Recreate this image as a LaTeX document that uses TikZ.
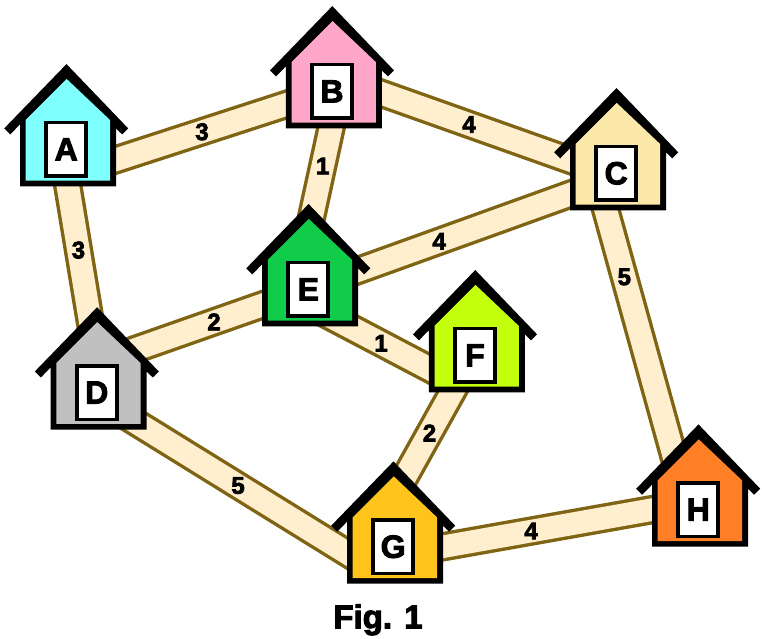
\documentclass[tikz,border=0pt]{standalone}
\usepackage{fontspec}
\setmainfont{Liberation Sans}[BoldFeatures={FakeBold=3}]
\usetikzlibrary{backgrounds,calc}
\definecolor{roadfill}{HTML}{FFEFCF}
\definecolor{roadedge}{HTML}{7F6414}
\definecolor{houseA}{HTML}{80FFFF}
\definecolor{houseB}{HTML}{FFA6C9}
\definecolor{houseC}{HTML}{FCE8A8}
\definecolor{houseD}{HTML}{C0C0C0}
\definecolor{houseE}{HTML}{10CC48}
\definecolor{houseF}{HTML}{C4FF0E}
\definecolor{houseG}{HTML}{FFC41C}
\definecolor{houseH}{HTML}{FF7F27}
\tikzset{
  x=1pt,y=-1pt,
  road/.style={draw=roadedge,line width=3.4pt,double=roadfill,double distance=22.5pt},
  letter/.style={inner sep=0pt,font=\fontsize{32}{32}\selectfont\bfseries},
  weight/.style={inner sep=0pt,font=\fontsize{24}{24}\selectfont\bfseries},
  caption/.style={inner sep=0pt,anchor=base,font=\fontsize{33}{33}\selectfont\bfseries},
}
% #1 name/letter, #2 x, #3 y (door centre)
\newcommand{\myhouse}[3]{%
  \begin{scope}[shift={(#2,#3)}]
    \fill[black] (0.3,-85.3) -- (62,-21) -- (56,-15) -- (49.8,-21) -- (49.8,37) -- (-46.2,37)
      -- (-46.2,-25) -- (-56,-15) -- (-62,-21) -- cycle;
    \fill[house#1] (0.5,-70.4) -- (43.8,-29.4) -- (43.8,31.3) -- (-40.5,31.3) -- (-40.5,-29.4) -- cycle;
    \fill[black] (-22,-28.7) rectangle (22,28.7);
    \fill[white] (-18,-25) rectangle (18,25);
  \end{scope}
  \node[letter] (#1) at (#2,#3) {#1};%
}
\begin{document}
\begin{tikzpicture}
\useasboundingbox (0,0) rectangle (762,638);
\myhouse{A}{66.2}{149.4}
\myhouse{B}{332}{91.4}
\myhouse{C}{616.2}{173.3}
\myhouse{D}{96.8}{392.5}
\myhouse{E}{308.3}{289.3}
\myhouse{F}{475}{355.3}
\myhouse{G}{393.2}{546.7}
\myhouse{H}{698.2}{509.7}
\node[caption] (cap) at (378,628.3) {Fig. 1};
\begin{pgfonlayer}{background}
\fill[white] (0,0) rectangle (762,638);
\draw[road] ($(A)+(0,26.5)$) -- node[weight,pos=.511]{3} ($(B)+(0,-1.8)$);
\draw[road] ($(A)+(-4.4,0)$) -- node[weight,pos=.414]{3} ($(D)+(5.2,0)$);
\draw[road] ($(B)+(0,-15.6)$) -- node[weight,pos=.482]{4} ($(C)+(0,3.3)$);
\draw[road] ($(B)+(7,0)$) -- node[weight,pos=.377]{1} ($(E)+(-12.5,0)$);
\draw[road] ($(C)+(0,4.3)$) -- node[weight,pos=.575]{4} ($(E)+(0,-0.9)$);
\draw[road] ($(C)+(-20.6,0)$) -- node[weight,pos=.308]{5} ($(H)+(-9.5,0)$);
\draw[road] ($(D)+(0,-29.5)$) -- node[weight,pos=.554]{2} ($(E)+(0,-0.5)$);
\draw[road] ($(D)+(0,5.7)$) -- node[weight,pos=.517]{5} ($(G)+(-23.2,20.5)$);
\draw[road] ($(E)+(0,15.7)$) -- node[weight,pos=.532]{1} ($(F)+(-30,21.6)$);
\draw[road] ($(F)+(-2.2,0)$) -- node[weight,pos=.472]{2} ($(G)+(-12.2,-26.7)$);
\draw[road] ($(G)+(0,8.9)$) -- node[weight,pos=.452]{4} ($(H)+(0,-8.3)$);
\end{pgfonlayer}
\end{tikzpicture}
\end{document}
